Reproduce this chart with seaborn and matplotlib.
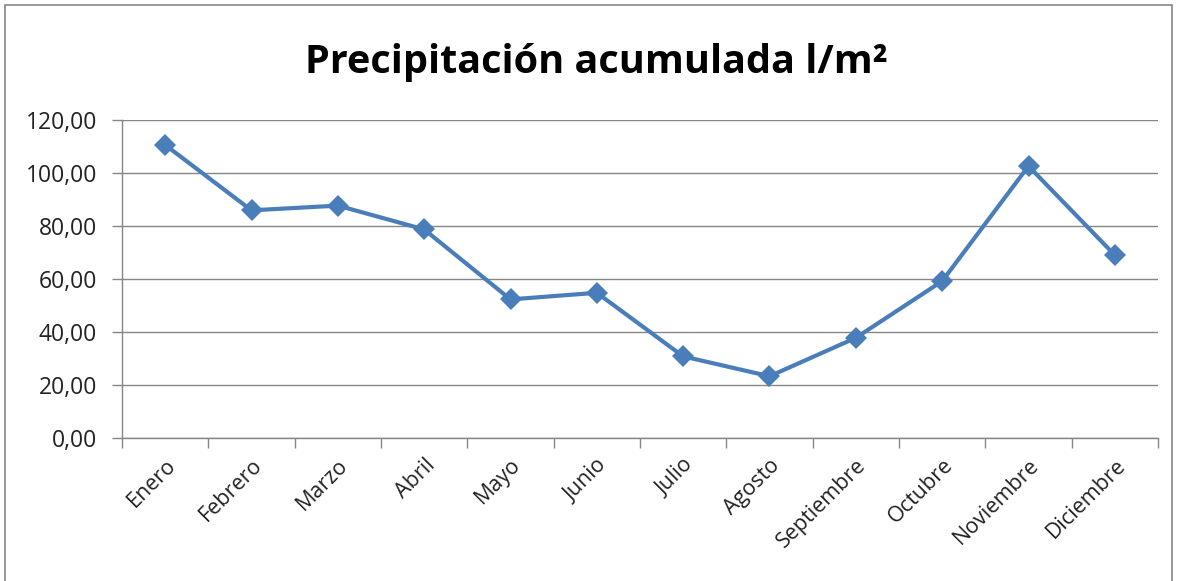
import matplotlib
matplotlib.use("Agg")
import matplotlib.pyplot as plt
import seaborn as sns
import pandas as pd
from matplotlib.patches import Rectangle
from matplotlib.ticker import FixedLocator, FuncFormatter

meses = ["Enero", "Febrero", "Marzo", "Abril", "Mayo", "Junio", "Julio",
         "Agosto", "Septiembre", "Octubre", "Noviembre", "Diciembre"]
precipitacion = [110.6, 85.9, 87.7, 78.7, 52.3, 54.8, 30.8, 23.3, 37.8, 59.2, 102.6, 69.0]
yticks = [0, 20, 40, 60, 80, 100, 120]
titulo = "Precipitación acumulada l/m²"

sns.set_theme(style="white")
plt.rcParams['font.family'] = ['Open Sans', 'DejaVu Sans']

df = pd.DataFrame({"mes": meses, "valor": precipitacion})

fig = plt.figure(figsize=(11.77, 5.81), dpi=100)
ax = fig.add_axes([122/1177, 1-438/581, (1158-122)/1177, (438-120)/581])

sns.lineplot(data=df, x="mes", y="valor", ax=ax, color="#4A7EBB", linewidth=3,
             marker="D", markersize=11, markeredgewidth=0, sort=False)

ax.set_xlim(-0.5, len(meses)-0.5)
ax.set_ylim(0, 120)
ax.set_yticks(yticks)
ax.yaxis.set_major_formatter(FuncFormatter(lambda v, p: f"{v:.2f}".replace(".", ",")))
ax.grid(axis="y", color="#868686", linewidth=1)
ax.set_axisbelow(True)

ax.set_xticks(range(len(meses)))
ax.set_xticklabels(meses, rotation=45, ha="right", rotation_mode="anchor", fontsize=15.5)
ax.tick_params(axis="x", which="major", length=0, pad=12)
ax.xaxis.set_minor_locator(FixedLocator([i-0.5 for i in range(len(meses)+1)]))
ax.tick_params(axis="x", which="minor", length=7, color="#868686", width=1, direction="out", bottom=True)
ax.tick_params(axis="y", length=7, color="#868686", width=1, direction="out", left=True, labelsize=16.5, pad=11)
for lbl in ax.get_yticklabels():
    lbl.set_color("#222222")
for lbl in ax.get_xticklabels():
    lbl.set_color("#222222")

for s in ["top", "right"]:
    ax.spines[s].set_visible(False)
for s in ["left", "bottom"]:
    ax.spines[s].set_color("#868686")
    ax.spines[s].set_linewidth(1)

ax.set_xlabel("")
ax.set_ylabel("")

fig.text(0.507, 1-62/581, titulo, ha="center", va="center", fontsize=28.5, fontweight="bold", color="black")

fig.patches.append(Rectangle((5/1177, -0.01), (1172-5)/1177, 1-5/581+0.01, transform=fig.transFigure,
                             fill=False, edgecolor="#868686", linewidth=1.2))

fig.savefig("out.png", dpi=100)
